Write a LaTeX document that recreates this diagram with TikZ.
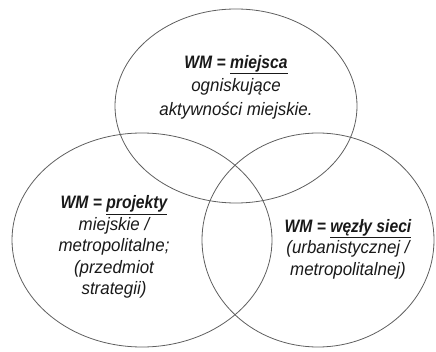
\documentclass[tikz,border=0pt]{standalone}
\usepackage{fontspec}
\setmainfont{Liberation Sans}[FakeStretch=0.94]
\newfontfamily\wmheadfont{Liberation Sans}[FakeStretch=0.87]
\usetikzlibrary{positioning,shapes.geometric}
\definecolor{RingGray}{RGB}{95,95,95}
\definecolor{TextDark}{RGB}{25,25,25}
\tikzset{
  ring/.style={ellipse,draw=RingGray,line width=0.8pt,inner sep=0pt,outer sep=0pt},
  wmtext/.style={align=center,text=TextDark,inner sep=0pt,
    font=\fontsize{18}{23.5}\selectfont\itshape},
  wmtexttight/.style={wmtext,font=\fontsize{18}{21.5}\selectfont\itshape}
}
\newcommand{\wmhead}[1]{{\wmheadfont\bfseries\itshape WM = \underline{#1}}}

\begin{document}
\begin{tikzpicture}[x=1pt,y=1pt]
  \useasboundingbox (0,0) rectangle (436,351);
  % three overlapping fields
  \node[ring,minimum width=242pt,minimum height=194pt] (places) at (236,245) {};
  \node[ring,minimum width=260pt,minimum height=214pt] (projects) at (142,111) {};
  \node[ring,minimum width=232pt,minimum height=214pt] (nodes) at (318,111) {};
  % texts
  \node[wmtext] (placestext) at (236,264)
    {\wmhead{miejsca}\\ ogniskujące\\ aktywności miejskie.};
  \node[wmtexttight] (projectstext) at (114,104)
    {\wmhead{projekty}\\ miejskie /\\ metropolitalne;\\ (przedmiot\\ strategii)};
  \node[wmtexttight] (nodestext) at (348,102)
    {\wmhead{węzły sieci}\\ (urbanistycznej /\\ metropolitalnej)};
\end{tikzpicture}
\end{document}
